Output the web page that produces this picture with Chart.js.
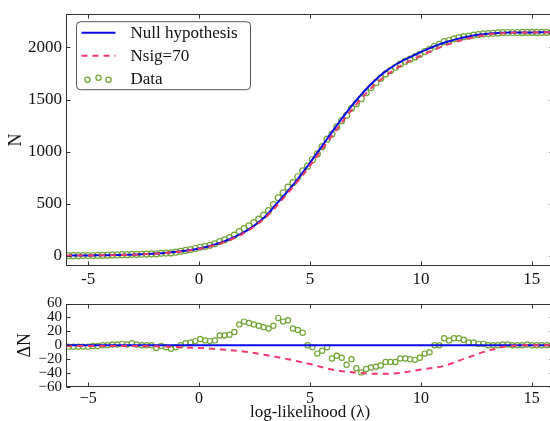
<!DOCTYPE html>
<html><head><meta charset="utf-8">
<script src="https://cdn.jsdelivr.net/npm/chart.js@4.4.1/dist/chart.umd.min.js"></script>
<style>
html,body{margin:0;padding:0;background:#fff;overflow:hidden;width:550px;height:421px;}
#top{position:absolute;left:0;top:0;width:560px;height:290px;}
#bot{position:absolute;left:0;top:292px;width:560px;height:129px;}
</style></head><body>
<div id="top"><canvas id="c1" width="560" height="290"></canvas></div>
<div id="bot"><canvas id="c2" width="560" height="129"></canvas></div>
<script>
// ---- data ----
const lambda = [-5.89,-5.67,-5.45,-5.23,-5.01,-4.79,-4.57,-4.35,-4.13,-3.91,
-3.69,-3.47,-3.25,-3.03,-2.81,-2.59,-2.37,-2.15,-1.93,-1.71,
-1.49,-1.27,-1.05,-0.83,-0.61,-0.39,-0.17,0.05,0.27,0.49,
0.71,0.93,1.15,1.37,1.59,1.81,2.03,2.25,2.47,2.69,
2.91,3.13,3.35,3.57,3.79,4.01,4.23,4.45,4.67,4.89,
5.11,5.33,5.55,5.77,5.99,6.21,6.43,6.65,6.87,7.09,
7.31,7.53,7.75,7.97,8.19,8.41,8.63,8.85,9.07,9.29,
9.51,9.73,9.95,10.17,10.39,10.61,10.83,11.05,11.27,11.49,
11.71,11.93,12.15,12.37,12.59,12.81,13.03,13.25,13.47,13.69,
13.91,14.13,14.35,14.57,14.79,15.01,15.23,15.45,15.67,15.89];

const nullN = [1,1,1,2,2,2,3,3,4,5,
6,7,8,9,11,13,15,17,20,23,
27,31,36,41,47,54,62,71,81,93,
106,121,138,157,178,201,226,254,286,322,
362,408,462,516,569,622,677,736,797,859,
924,989,1055,1122,1187,1252,1315,1377,1436,1493,
1547,1599,1647,1693,1734,1770,1803,1834,1860,1885,
1908,1930,1952,1973,1993,2012,2030,2046,2060,2073,
2085,2096,2106,2115,2122,2128,2133,2137,2140,2142,
2143,2144,2144,2145,2145,2145,2145,2146,2146,2146];

const dataN = [-1,-1,-1,0,0,1,2,3,4,6,
7,9,9,12,12,13,15,17,16,22,
24,26,33,41,50,58,68,80,88,99,
113,135,152,172,197,231,260,286,316,350,
388,432,490,555,603,658,701,758,815,859,
921,977,1047,1119,1168,1237,1297,1349,1416,1460,
1508,1565,1615,1662,1705,1746,1779,1810,1841,1866,
1888,1909,1934,1961,1983,2012,2030,2056,2067,2083,
2095,2104,2110,2119,2124,2130,2133,2137,2140,2143,
2144,2144,2144,2145,2146,2145,2145,2146,2146,2146];

const dataDelta = [-2,-2,-2,-2,-2,-1,-1,0,0,1,
1,2,1,3,1,0,0,0,-4,-1,
-3,-5,-3,0,3,4,6,9,7,6,
7,14,14,15,19,30,34,32,30,28,
26,24,28,39,34,36,24,22,18,0,
-3,-12,-8,-3,-19,-15,-18,-28,-20,-33,
-39,-34,-32,-31,-29,-24,-24,-24,-19,-19,
-20,-21,-18,-12,-10,0,0,10,7,10,
10,8,4,4,2,2,0,0,0,1,
1,0,0,0,1,0,0,0,0,0];

const nsigLambda = [-6,-5,-4,-3,-2,-1,0,1,2,3,4,5,6,7,8,9,10,11,12,13,14,15,16];
const nsigN = [0,1,4,8,18,35,65,120,214,367,601,865,1155,1431,1658,1813,1922,2012,2080,2124,2142,2145,2146];
const nsigDelta = [-1,-1,-1,-1,-1.5,-2.5,-4,-6,-9,-14,-20,-27,-35,-39,-41,-40,-35,-30,-19,-8,-1,0,0];

const nullLambda = [-6,16];
const nullDelta = [0,0];

const xTicks = [-5,0,5,10,15];
const topYTicks = [0,500,1000,1500,2000];
const botYTicks = [-60,-40,-20,0,20,40,60];

const seriesNames = ['Null hypothesis','Nsig=70','Data'];
const COL_NULL = '#0a0ae6', COL_SIG = '#f0386b', COL_DATA = '#72a535';
const SERIF = '"Liberation Serif", "DejaVu Serif", serif';

// ---- helpers ----
const pts = (xs, ys) => xs.map((x,i)=>({x:x, y:ys[i]}));
const minus = v => (v < 0 ? '\u2212' + Math.abs(v) : String(v));

const framePlugin = {
  id: 'frame',
  afterDatasetsDraw(chart) {
    const {ctx, chartArea: a} = chart;
    const xs = chart.scales.x, ys = chart.scales.y;
    ctx.save();
    ctx.strokeStyle = '#333';
    ctx.lineWidth = 1;
    const L = Math.round(a.left)+0.5, R = Math.round(a.right)-0.5, T = Math.round(a.top)+0.5, B = Math.round(a.bottom)-0.5;
    ctx.strokeRect(L, T, R-L, B-T);
    ctx.beginPath();
    xs.ticks.forEach(t => { const p = Math.round(xs.getPixelForValue(t.value))+0.5;
      ctx.moveTo(p,B); ctx.lineTo(p,B-4); ctx.moveTo(p,T); ctx.lineTo(p,T+4); });
    ys.ticks.forEach(t => { const p = Math.round(ys.getPixelForValue(t.value))+0.5;
      ctx.moveTo(L,p); ctx.lineTo(L+4,p); ctx.moveTo(R,p); ctx.lineTo(R-4,p); });
    ctx.stroke();
    ctx.restore();
  }
};

const legendPlugin = {
  id: 'legendBox',
  afterDraw(chart) {
    const {ctx, chartArea: a} = chart;
    const x0 = a.left + 10.5, y0 = a.top + 7.5, w = 174, h = 68, r = 4;
    ctx.save();
    ctx.beginPath();
    ctx.moveTo(x0+r, y0); ctx.lineTo(x0+w-r, y0); ctx.arcTo(x0+w, y0, x0+w, y0+r, r);
    ctx.lineTo(x0+w, y0+h-r); ctx.arcTo(x0+w, y0+h, x0+w-r, y0+h, r);
    ctx.lineTo(x0+r, y0+h); ctx.arcTo(x0, y0+h, x0, y0+h-r, r);
    ctx.lineTo(x0, y0+r); ctx.arcTo(x0, y0, x0+r, y0, r);
    ctx.closePath();
    ctx.fillStyle = '#fff'; ctx.fill();
    ctx.strokeStyle = '#555'; ctx.lineWidth = 1; ctx.stroke();

    const rows = [y0+11, y0+34, y0+57];
    ctx.font = '17px ' + SERIF;
    ctx.fillStyle = '#111';
    ctx.textBaseline = 'middle';
    ctx.textAlign = 'left';
    // null
    ctx.strokeStyle = COL_NULL; ctx.lineWidth = 2; ctx.setLineDash([]);
    ctx.beginPath(); ctx.moveTo(x0+5, rows[0]); ctx.lineTo(x0+39, rows[0]); ctx.stroke();
    // nsig
    ctx.strokeStyle = COL_SIG; ctx.setLineDash([6,5]);
    ctx.beginPath(); ctx.moveTo(x0+5, rows[1]); ctx.lineTo(x0+39, rows[1]); ctx.stroke();
    ctx.setLineDash([]);
    // data markers
    ctx.strokeStyle = COL_DATA; ctx.lineWidth = 1.3;
    [[11,1],[22,-1],[32,1]].forEach(([dx,dy]) => {
      ctx.beginPath(); ctx.arc(x0+dx, rows[2]+dy, 2.6, 0, Math.PI*2); ctx.stroke();
    });
    rows.forEach((y,i) => ctx.fillText(seriesNames[i], x0+54, y+1));
    ctx.restore();
  }
};

Chart.defaults.font.family = SERIF;
Chart.defaults.color = '#111';

// ---- top panel ----
new Chart(document.getElementById('c1'), {
  type: 'line',
  data: {
    datasets: [
      { label: seriesNames[2], data: pts(lambda, dataN), showLine: false,
        pointRadius: 3, pointBorderWidth: 1.2, pointBorderColor: COL_DATA,
        pointBackgroundColor: 'rgba(0,0,0,0)', order: 3 },
      { label: seriesNames[0], data: pts(lambda, nullN), borderColor: COL_NULL,
        borderWidth: 2, pointRadius: 0, cubicInterpolationMode: 'monotone', order: 2 },
      { label: seriesNames[1], data: pts(nsigLambda, nsigN), borderColor: COL_SIG,
        borderWidth: 2, borderDash: [6,5], pointRadius: 0, cubicInterpolationMode: 'monotone', order: 1 }
    ]
  },
  options: {
    responsive: false, animation: false, devicePixelRatio: 1,
    layout: { padding: { left: 0, top: 8, right: 6, bottom: 0 } },
    plugins: { legend: { display: false }, tooltip: { enabled: false } },
    scales: {
      x: { type: 'linear', min: -6, max: 16,
        afterFit: s => { s.height = 24; },
        afterBuildTicks: s => { s.ticks = xTicks.map(v => ({value: v})); },
        grid: { display: false, drawTicks: false }, border: { display: false },
        ticks: { font: { size: 17 }, padding: 3, maxRotation: 0, callback: v => String(v) } },
      y: { type: 'linear', min: -100, max: 2320,
        afterFit: s => { s.width = 66; },
        afterBuildTicks: s => { s.ticks = topYTicks.map(v => ({value: v})); },
        grid: { display: false, drawTicks: false }, border: { display: false },
        ticks: { font: { size: 17 }, padding: 4, callback: v => String(v) },
        title: { display: true, text: 'N', font: { size: 18, lineHeight: 1 }, padding: { top: 7, bottom: 0 } } }
    }
  },
  plugins: [framePlugin, legendPlugin]
});

// ---- bottom panel ----
new Chart(document.getElementById('c2'), {
  type: 'line',
  data: {
    datasets: [
      { label: seriesNames[2], data: pts(lambda, dataDelta), showLine: false,
        pointRadius: 2.6, pointBorderWidth: 1.2, pointBorderColor: COL_DATA,
        pointBackgroundColor: 'rgba(0,0,0,0)', order: 3 },
      { label: seriesNames[0], data: pts(nullLambda, nullDelta), borderColor: COL_NULL,
        borderWidth: 2, pointRadius: 0, order: 2 },
      { label: seriesNames[1], data: pts(nsigLambda, nsigDelta), borderColor: COL_SIG,
        borderWidth: 2, borderDash: [6,5], pointRadius: 0, cubicInterpolationMode: 'monotone', order: 1 }
    ]
  },
  options: {
    responsive: false, animation: false, devicePixelRatio: 1,
    layout: { padding: { left: 0, top: 8, right: 6, bottom: 0 } },
    plugins: { legend: { display: false }, tooltip: { enabled: false } },
    scales: {
      x: { type: 'linear', min: -6, max: 16,
        afterFit: s => { s.height = 34; },
        afterBuildTicks: s => { s.ticks = xTicks.map(v => ({value: v})); },
        grid: { display: false, drawTicks: false }, border: { display: false },
        ticks: { font: { size: 16 }, padding: 2, maxRotation: 0, callback: v => minus(v) },
        title: { display: true, text: 'log-likelihood (\u03bb)', font: { size: 17, lineHeight: 1 }, padding: { top: 0, bottom: 0 } } },
      y: { type: 'linear', min: -60, max: 60,
        afterFit: s => { s.width = 66; },
        afterBuildTicks: s => { s.ticks = botYTicks.map(v => ({value: v})); },
        grid: { display: false, drawTicks: false }, border: { display: false },
        ticks: { font: { size: 15, lineHeight: 1 }, padding: 4, autoSkip: false, callback: v => minus(v) },
        title: { display: true, text: '\u0394N', font: { size: 18, lineHeight: 1 }, padding: { top: 16, bottom: 0 } } }
    }
  },
  plugins: [framePlugin]
});
</script>
</body></html>
